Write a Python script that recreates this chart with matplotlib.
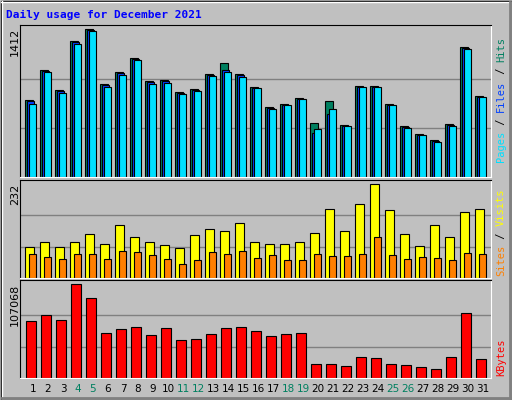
import matplotlib
matplotlib.use('Agg')
from matplotlib import pyplot as plt
from matplotlib.patches import Rectangle
import numpy as np

days = list(range(1, 32))
weekend = [4, 5, 11, 12, 18, 19, 25, 26]

hits = [735, 1022, 831, 1300, 1412, 885, 1003, 1134, 917, 927, 812, 840, 984, 1089, 984, 859,
        668, 696, 754, 514, 725, 495, 869, 869, 696, 486, 409, 351, 505, 1243, 773]
files = [725, 1012, 821, 1290, 1402, 875, 993, 1124, 907, 917, 802, 830, 974, 1022, 974, 849,
         658, 686, 744, 420, 600, 490, 864, 864, 690, 480, 404, 345, 500, 1236, 768]
pages = [697, 1003, 802, 1272, 1393, 859, 974, 1115, 888, 898, 792, 821, 965, 1003, 955, 850,
         649, 687, 744, 457, 649, 486, 859, 859, 687, 466, 399, 332, 486, 1224, 764]
sites = [77, 89, 77, 89, 109, 84, 130, 100, 89, 81, 74, 105, 120, 115, 137, 89,
         84, 84, 89, 112, 170, 115, 182, 232, 167, 109, 79, 130, 102, 162, 170]
visits = [59, 52, 47, 59, 59, 47, 67, 64, 57, 47, 34, 44, 64, 59, 67, 49,
          57, 44, 44, 59, 54, 54, 59, 100, 57, 47, 52, 49, 44, 62, 59]
kbytes = [64873, 71907, 66045, 107068, 91838, 50804, 55494, 57838, 48459, 56666, 43770, 44942,
          49632, 56666, 57838, 53149, 47287, 49632, 50804, 15632, 15632, 13287, 23839, 22666,
          15632, 14460, 12115, 9770, 23839, 74252, 21494]

W, H = 512, 400
BG = '#c0c0c0'
fig = plt.figure(figsize=(W / 100, H / 100), dpi=100, facecolor=BG)

# bevelled frame
frame = fig.add_axes([0, 0, 1, 1])
frame.set_xlim(0, W)
frame.set_ylim(H, 0)
frame.axis('off')
frame.add_patch(Rectangle((0.5, 0.5), W - 1, H - 1, fill=False, ec='black', lw=1))
frame.plot([1, W - 2], [1.5, 1.5], color='white', lw=1)
frame.plot([1.5, 1.5], [1, H - 2], color='white', lw=1)
frame.plot([2, W - 2], [H - 2.5, H - 2.5], color='#808080', lw=2)
frame.plot([W - 2.5, W - 2.5], [2, H - 2], color='#808080', lw=2)

mono = 'DejaVu Sans Mono'
fig.text(6 / W, 1 - 15 / H, 'Daily usage for December 2021', color='#0000ff',
         fontsize=8, fontweight='bold', family=mono, va='center')

xl, xr = 20, 491
xlim = (1 + (xl - 33) / 15, 1 + (xr - 33) / 15)


def panel(top, bottom, ymax):
    ax = fig.add_axes([xl / W, 1 - bottom / H, (xr - xl) / W, (bottom - top) / H])
    ax.set_facecolor(BG)
    ax.set_xlim(*xlim)
    ax.set_ylim(0, ymax)
    ax.set_xticks([])
    ax.set_yticks([])
    for s in ['left', 'top']:
        ax.spines[s].set_color('black')
    for s in ['right', 'bottom']:
        ax.spines[s].set_color('white')
    return ax


def grid(ax, vmax):
    for g in (vmax / 3, 2 * vmax / 3):
        ax.axhline(g, color='#808080', lw=1, zorder=0)


RFS = 7.5
CHAR = 0.602 * RFS * 100 / 72  # mono glyph advance in px


def right_label(parts, y_bottom):
    y = y_bottom
    for txt, col in parts:
        fig.text(501 / W, 1 - y / H, txt, color=col, fontsize=RFS, family=mono,
                 rotation=90, ha='center', va='bottom')
        y -= len(txt) * CHAR


x = np.array(days)

ax1 = panel(24.7, 177, 1412 * 152.3 / 147.7)
grid(ax1, 1412)
ax1.bar(x - 0.53, hits, width=0.5, align='edge', color='#008060', ec='black', lw=0.8)
ax1.bar(x - 0.43, files, width=0.5, align='edge', color='#0040ff', ec='black', lw=0.8)
ax1.bar(x - 0.27, pages, width=0.5, align='edge', color='#00e0ff', ec='black', lw=0.8)
fig.text(15 / W, 1 - 28 / H, str(max(hits)), fontsize=8, rotation=90, ha='center', va='top')
right_label([('Pages', '#00e0ff'), (' / ', '#000000'), ('Files', '#0040ff'),
             (' / ', '#000000'), ('Hits', '#008060')], 162)

ax2 = panel(180.3, 277.7, 232 * 97.4 / 93.4)
grid(ax2, 232)
ax2.bar(x - 0.53, sites, width=0.58, align='edge', color='#ffff00', ec='black', lw=0.8)
ax2.bar(x - 0.27, visits, width=0.5, align='edge', color='#ff8000', ec='black', lw=0.8)
fig.text(15 / W, 1 - 184 / H, str(max(sites)), fontsize=8, rotation=90, ha='center', va='top')
right_label([('Sites', '#ff8000'), (' / ', '#000000'), ('Visits', '#ffff00')], 276)

ax3 = panel(280.3, 377.7, 107068 * 95.4 / 91.4)
grid(ax3, 107068)
ax3.bar(x - 0.47, kbytes, width=0.7, align='edge', color='#ff0000', ec='black', lw=0.8)
fig.text(15 / W, 1 - 284 / H, str(max(kbytes)), fontsize=8, rotation=90, ha='center', va='top')
right_label([('KBytes', '#ff0000')], 376)

for d in days:
    col = '#008060' if d in weekend else 'black'
    fig.text((33 + 15 * (d - 1)) / W, 1 - 389 / H, str(d), color=col, fontsize=7.5,
             ha='center', va='center')

fig.savefig('out.png', dpi=100, facecolor=BG)
